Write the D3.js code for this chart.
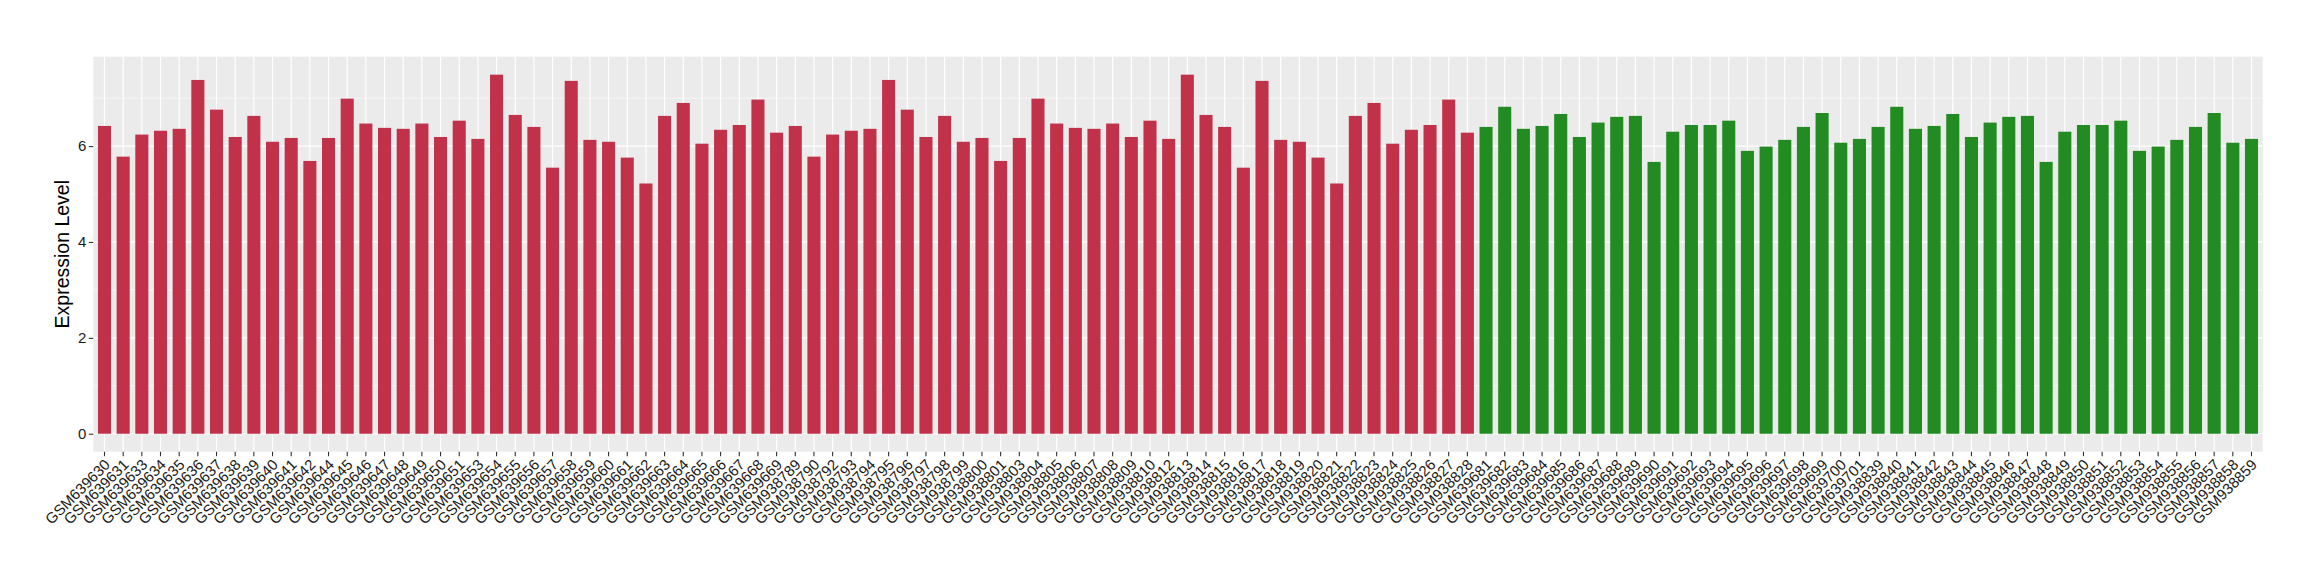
<!DOCTYPE html>
<html>
<head>
<meta charset="utf-8">
<script src="https://cdn.jsdelivr.net/npm/d3@7"></script>
<style>
  html, body { margin: 0; padding: 0; background: #ffffff; }
  svg { display: block; font-family: "Liberation Sans", Arial, Helvetica, sans-serif; }
</style>
</head>
<body>
<svg id="chart" width="2320" height="580"></svg>
<script>
// ---- data ----
const redSamples = [
  "GSM639630","GSM639631","GSM639633","GSM639634","GSM639635","GSM639636","GSM639637","GSM639638",
  "GSM639639","GSM639640","GSM639641","GSM639642","GSM639644","GSM639645","GSM639646","GSM639647",
  "GSM639648","GSM639649","GSM639650","GSM639651","GSM639653","GSM639654","GSM639655","GSM639656",
  "GSM639657","GSM639658","GSM639659","GSM639660","GSM639661","GSM639662","GSM639663","GSM639664",
  "GSM639665","GSM639666","GSM639667","GSM639668","GSM639669",
  "GSM938789","GSM938790","GSM938792","GSM938793","GSM938794","GSM938795","GSM938796","GSM938797",
  "GSM938798","GSM938799","GSM938800","GSM938801","GSM938803","GSM938804","GSM938805","GSM938806",
  "GSM938807","GSM938808","GSM938809","GSM938810","GSM938812","GSM938813","GSM938814","GSM938815",
  "GSM938816","GSM938817","GSM938818","GSM938819","GSM938820","GSM938821","GSM938822","GSM938823",
  "GSM938824","GSM938825","GSM938826","GSM938827","GSM938828"
];
const redValues = [
  6.42,5.78,6.24,6.32,6.36,7.38,6.76,6.19,6.63,6.09,6.17,5.69,6.17,6.99,6.47,6.38,
  6.36,6.47,6.19,6.53,6.15,7.49,6.65,6.40,5.55,7.36,6.13,6.09,5.76,5.22,6.63,6.90,
  6.05,6.34,6.44,6.97,6.28,
  6.42,5.78,6.24,6.32,6.36,7.38,6.76,6.19,6.63,6.09,6.17,5.69,6.17,6.99,6.47,6.38,
  6.36,6.47,6.19,6.53,6.15,7.49,6.65,6.40,5.55,7.36,6.13,6.09,5.76,5.22,6.63,6.90,
  6.05,6.34,6.44,6.97,6.28
];
const greenSamples = [
  "GSM639681","GSM639682","GSM639683","GSM639684","GSM639685","GSM639686","GSM639687","GSM639688",
  "GSM639689","GSM639690","GSM639691","GSM639692","GSM639693","GSM639694","GSM639695","GSM639696",
  "GSM639697","GSM639698","GSM639699","GSM639700","GSM639701",
  "GSM938839","GSM938840","GSM938841","GSM938842","GSM938843","GSM938844","GSM938845","GSM938846",
  "GSM938847","GSM938848","GSM938849","GSM938850","GSM938851","GSM938852","GSM938853","GSM938854",
  "GSM938855","GSM938856","GSM938857","GSM938858","GSM938859"
];
const greenValues = [
  6.40,6.82,6.36,6.42,6.67,6.19,6.49,6.61,6.63,5.67,6.30,6.44,6.44,6.53,5.90,5.99,
  6.13,6.40,6.69,6.07,6.15,
  6.40,6.82,6.36,6.42,6.67,6.19,6.49,6.61,6.63,5.67,6.30,6.44,6.44,6.53,5.90,5.99,
  6.13,6.40,6.69,6.07,6.15
];
const yTicks = [0, 2, 4, 6];
const yMinor = [1, 3, 5, 7];
const yTitle = "Expression Level";
const groupColors = { red: "#C1314A", green: "#228B22" };

// ---- build rows ----
const rows = redSamples.map((s, i) => ({ sample: s, value: redValues[i], group: "red" }))
  .concat(greenSamples.map((s, i) => ({ sample: s, value: greenValues[i], group: "green" })));

// ---- layout ----
const panel = { left: 93.3, right: 2262.7, top: 56.7, bottom: 451.7 };
const svg = d3.select("#chart");

const x = d3.scaleBand()
  .domain(rows.map(d => d.sample))
  .range([panel.left, panel.right])
  .paddingInner(0.3)
  .paddingOuter(0.25);

const maxV = d3.max(rows, d => d.value);
const y = d3.scaleLinear()
  .domain([-0.05 * maxV, 1.05 * maxV])
  .range([panel.bottom, panel.top]);

// panel background
svg.append("rect")
  .attr("x", panel.left).attr("y", panel.top)
  .attr("width", panel.right - panel.left)
  .attr("height", panel.bottom - panel.top)
  .attr("fill", "#EBEBEB");

const grid = svg.append("g");
// minor horizontal
grid.selectAll("line.minor").data(yMinor).join("line")
  .attr("x1", panel.left).attr("x2", panel.right)
  .attr("y1", d => y(d)).attr("y2", d => y(d))
  .attr("stroke", "#ffffff").attr("stroke-width", 0.6);
// major horizontal
grid.selectAll("line.major").data(yTicks).join("line")
  .attr("x1", panel.left).attr("x2", panel.right)
  .attr("y1", d => y(d)).attr("y2", d => y(d))
  .attr("stroke", "#ffffff").attr("stroke-width", 1.2);
// vertical
grid.selectAll("line.vert").data(rows).join("line")
  .attr("x1", d => x(d.sample) + x.bandwidth() / 2)
  .attr("x2", d => x(d.sample) + x.bandwidth() / 2)
  .attr("y1", panel.top).attr("y2", panel.bottom)
  .attr("stroke", "#ffffff").attr("stroke-width", 1.2);

// bars
svg.append("g").selectAll("rect").data(rows).join("rect")
  .attr("x", d => x(d.sample))
  .attr("width", x.bandwidth())
  .attr("y", d => y(d.value))
  .attr("height", d => y(0) - y(d.value))
  .attr("fill", d => groupColors[d.group]);

// y axis
const yAxis = d3.axisLeft(y).tickValues(yTicks).tickSize(4.5).tickPadding(2.5).tickFormat(d3.format("d"));
const gy = svg.append("g").attr("transform", `translate(${panel.left},0)`).call(yAxis);
gy.select(".domain").remove();
gy.selectAll(".tick line").attr("stroke", "#333333").attr("stroke-width", 1.1);
gy.selectAll(".tick text").attr("fill", "#1a1a1a").style("font-size", "15px")
  .style("font-family", "'Liberation Sans', Arial, sans-serif");

// x axis
const xAxis = d3.axisBottom(x).tickSize(4.5).tickPadding(0);
const gx = svg.append("g").attr("transform", `translate(0,${panel.bottom})`).call(xAxis);
gx.select(".domain").remove();
gx.selectAll(".tick line").attr("stroke", "#333333").attr("stroke-width", 1.1);
gx.selectAll(".tick text")
  .attr("fill", "#1a1a1a")
  .style("font-size", "15px")
  .style("font-family", "'Liberation Sans', Arial, sans-serif")
  .attr("text-anchor", "end")
  .attr("y", 0).attr("dy", 0)
  .attr("transform", "translate(6.5,14) rotate(-45)");

// y title
svg.append("text")
  .attr("transform", `translate(69,${(panel.top + panel.bottom) / 2}) rotate(-90)`)
  .attr("text-anchor", "middle")
  .attr("fill", "#000")
  .style("font-size", "19.5px")
  .style("font-family", "'Liberation Sans', Arial, sans-serif")
  .text(yTitle);
</script>
</body>
</html>
